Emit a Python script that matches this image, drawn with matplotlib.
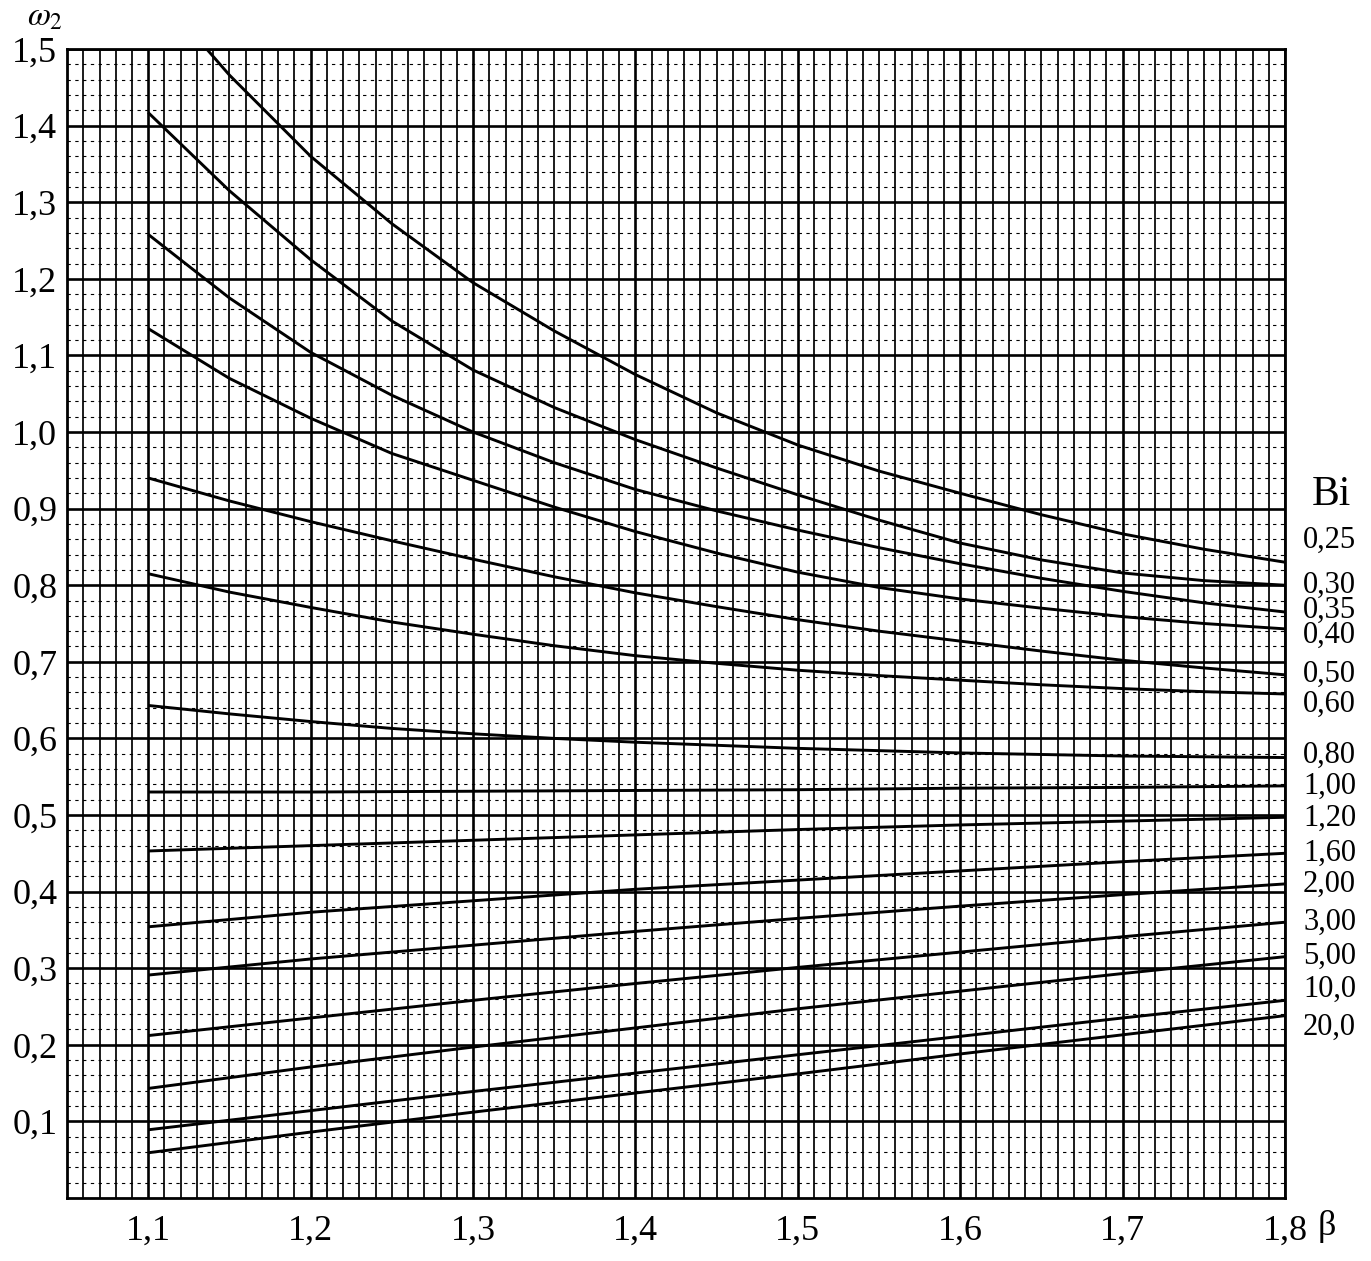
import matplotlib.pyplot as plt
import matplotlib.transforms as mtransforms
from matplotlib.ticker import FixedLocator, FuncFormatter
import numpy as np

plt.rcParams['font.family'] = ['Liberation Serif', 'DejaVu Serif']
plt.rcParams['mathtext.fontset'] = 'stix'

beta_top = [1.136, 1.15, 1.2, 1.25, 1.3, 1.35, 1.4, 1.45, 1.5, 1.55, 1.6, 1.65, 1.7, 1.75, 1.8]
beta_fine = [1.1, 1.15, 1.2, 1.25, 1.3, 1.35, 1.4, 1.45, 1.5, 1.55, 1.6, 1.65, 1.7, 1.75, 1.8]
beta_coarse = [1.1, 1.2, 1.3, 1.4, 1.5, 1.6, 1.7, 1.8]

# omega_2 for each Bi
w_025 = [1.5, 1.466, 1.36, 1.272, 1.195, 1.132, 1.075, 1.025, 0.983, 0.949, 0.92, 0.892, 0.867, 0.847, 0.83]
w_030 = [1.417, 1.315, 1.225, 1.145, 1.081, 1.032, 0.99, 0.953, 0.918, 0.885, 0.855, 0.833, 0.816, 0.806, 0.80]
w_035 = [1.258, 1.175, 1.104, 1.048, 1.0, 0.96, 0.925, 0.897, 0.872, 0.849, 0.828, 0.809, 0.792, 0.777, 0.765]
w_040 = [1.135, 1.07, 1.018, 0.972, 0.937, 0.902, 0.87, 0.842, 0.817, 0.797, 0.782, 0.77, 0.759, 0.75, 0.743]
w_050 = [0.94, 0.91, 0.883, 0.858, 0.834, 0.811, 0.79, 0.772, 0.755, 0.74, 0.727, 0.714, 0.702, 0.692, 0.683]
w_060 = [0.815, 0.791, 0.771, 0.752, 0.736, 0.721, 0.708, 0.698, 0.689, 0.682, 0.676, 0.67, 0.665, 0.661, 0.658]
w_080 = [0.643, 0.632, 0.622, 0.613, 0.606, 0.60, 0.595, 0.591, 0.587, 0.584, 0.581, 0.579, 0.577, 0.576, 0.575]
w_100 = [0.530, 0.530, 0.531, 0.532, 0.533, 0.535, 0.536, 0.538]
w_120 = [0.453, 0.460, 0.467, 0.474, 0.481, 0.487, 0.492, 0.497]
w_160 = [0.354, 0.373, 0.388, 0.403, 0.415, 0.427, 0.439, 0.450]
w_200 = [0.291, 0.312, 0.330, 0.348, 0.365, 0.381, 0.396, 0.410]
w_300 = [0.212, 0.235, 0.258, 0.280, 0.301, 0.321, 0.341, 0.360]
w_500 = [0.143, 0.171, 0.197, 0.222, 0.247, 0.270, 0.293, 0.315]
w_1000 = [0.089, 0.114, 0.139, 0.163, 0.187, 0.211, 0.235, 0.258]
w_2000 = [0.059, 0.086, 0.112, 0.137, 0.162, 0.188, 0.213, 0.238]

bi_text = ['0,25', '0,30', '0,35', '0,40', '0,50', '0,60', '0,80', '1,00',
           '1,20', '1,60', '2,00', '3,00', '5,00', '10,0', '20,0']
x_ticks = [1.1, 1.2, 1.3, 1.4, 1.5, 1.6, 1.7, 1.8]
y_ticks = [0.1, 0.2, 0.3, 0.4, 0.5, 0.6, 0.7, 0.8, 0.9, 1.0, 1.1, 1.2, 1.3, 1.4, 1.5]

# where the Bi captions sit on the right (layout only)
label_y = [0.859, 0.800, 0.767, 0.734, 0.683, 0.644, 0.578, 0.537,
           0.496, 0.450, 0.409, 0.360, 0.315, 0.272, 0.223]

curves = [(beta_top, w_025), (beta_fine, w_030), (beta_fine, w_035), (beta_fine, w_040),
          (beta_fine, w_050), (beta_fine, w_060), (beta_fine, w_080),
          (beta_coarse, w_100), (beta_coarse, w_120), (beta_coarse, w_160),
          (beta_coarse, w_200), (beta_coarse, w_300), (beta_coarse, w_500),
          (beta_coarse, w_1000), (beta_coarse, w_2000)]

fig = plt.figure(figsize=(13.71, 12.61), dpi=100)
ax = fig.add_axes([0.0489, 0.0500, 0.8884, 0.9111])
ax.set_xlim(1.05, 1.8)
ax.set_ylim(0, 1.5)

for b, w in curves:
    ax.plot(b, w, color='black', lw=2.1, zorder=5, solid_capstyle='butt')

comma = FuncFormatter(lambda v, pos: f'{v:.1f}'.replace('.', ','))
ax.xaxis.set_major_locator(FixedLocator(x_ticks))
ax.yaxis.set_major_locator(FixedLocator(y_ticks))
ax.xaxis.set_major_formatter(comma)
ax.yaxis.set_major_formatter(comma)
ax.xaxis.set_minor_locator(FixedLocator(np.round(np.arange(1.05, 1.8001, 0.01), 3)))
ax.yaxis.set_minor_locator(FixedLocator(np.round(np.arange(0.0, 1.5001, 0.02), 3)))

ax.xaxis.grid(True, which='major', color='black', lw=1.9)
ax.yaxis.grid(True, which='major', color='black', lw=1.9)
ax.xaxis.grid(True, which='minor', color='black', lw=1.25)
ax.yaxis.grid(True, which='minor', color='black', lw=0.8, linestyle=(0, (3, 4)))
ax.set_axisbelow(True)

ax.tick_params(which='both', length=0)
ax.tick_params(axis='x', labelsize=26, pad=12)
ax.tick_params(axis='y', labelsize=26, pad=7)
for s in ax.spines.values():
    s.set_linewidth(2.0)

trans = mtransforms.blended_transform_factory(ax.transAxes, ax.transData)
ax.text(1.022, 0.918, 'Bi', transform=trans, fontsize=30, ha='left', va='center')
for t, yy in zip(bi_text, label_y):
    ax.text(1.0148, yy, t, transform=trans, fontsize=22, ha='left', va='center')

ax.text(1.027, -0.0105, 'β', transform=ax.transAxes, fontsize=26, ha='left', va='top')
fig.text(0.033, 0.986, r'$\omega_2$', fontsize=24, ha='center', va='center')

fig.savefig('out.png', dpi=100)
